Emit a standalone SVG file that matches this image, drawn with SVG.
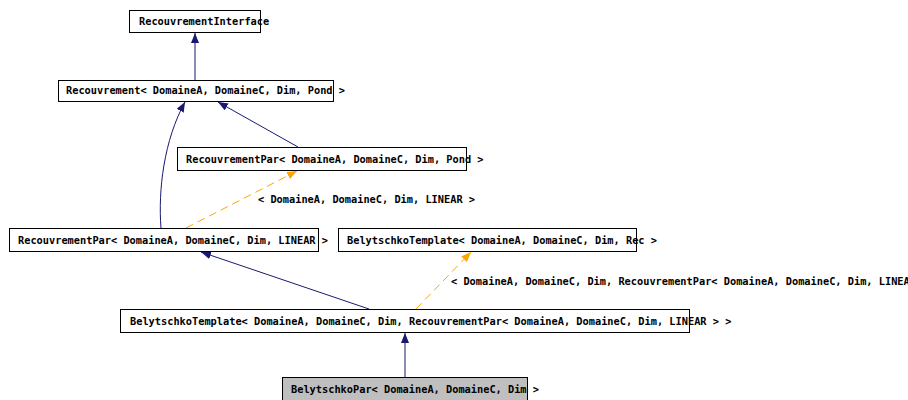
<svg xmlns="http://www.w3.org/2000/svg" width="908" height="400" viewBox="0 0 908 400">
<defs>
<style>
.box{fill:#ffffff;stroke:#000000;stroke-width:1}
.cur{fill:#bfbfbf;stroke:#000000;stroke-width:1}
text{font-family:"DejaVu Sans Mono","Liberation Mono",monospace;font-size:10.3px;font-weight:bold;fill:#000000}
.inh{fill:none;stroke:#191970;stroke-width:1}
.tpl{fill:none;stroke:#ffa500;stroke-width:1;stroke-dasharray:8,5}
</style>
<marker id="ah" viewBox="0 0 10 8" refX="10" refY="4" markerWidth="10" markerHeight="8" markerUnits="userSpaceOnUse" orient="auto">
<path d="M0,0 L10,4 L0,8 Z" fill="#191970"/>
</marker>
<marker id="ao" viewBox="0 0 10 8" refX="10" refY="4" markerWidth="10" markerHeight="8" markerUnits="userSpaceOnUse" orient="auto">
<path d="M0,0 L10,4 L0,8 Z" fill="#ffa500"/>
</marker>
</defs>
<rect width="908" height="400" fill="#ffffff"/>
<g id="connectors">
<path class="inh" d="M195,80 L195,33" marker-end="url(#ah)"/>
<path class="inh" d="M161,228 C158,190 164,140 185,102" marker-end="url(#ah)"/>
<path class="inh" d="M298,147 L218,102" marker-end="url(#ah)"/>
<path class="tpl" d="M186,228 L297,171" marker-end="url(#ao)"/>
<path class="inh" d="M369,309 L201,252" marker-end="url(#ah)"/>
<path class="tpl" d="M416,309 L471,252" marker-end="url(#ao)"/>
<path class="inh" d="M405,377 L405,333" marker-end="url(#ah)"/>
<text x="258" y="203">&lt; DomaineA, DomaineC, Dim, LINEAR &gt;</text>
<text x="451" y="285">&lt; DomaineA, DomaineC, Dim, RecouvrementPar&lt; DomaineA, DomaineC, Dim, LINEAR &gt; &gt;</text>
</g>
<g id="n_RecouvrementInterface">
<rect class="box" x="129.5" y="10.5" width="131" height="22"/>
<text x="139" y="25">RecouvrementInterface</text>
</g>
<g id="n_Recouvrement">
<rect class="box" x="58.5" y="80.5" width="275" height="21"/>
<text x="66" y="94">Recouvrement&lt; DomaineA, DomaineC, Dim, Pond &gt;</text>
</g>
<g id="n_RecouvrementPar_Pond">
<rect class="box" x="177.5" y="147.5" width="289" height="23"/>
<text x="186" y="163">RecouvrementPar&lt; DomaineA, DomaineC, Dim, Pond &gt;</text>
</g>
<g id="n_RecouvrementPar_LINEAR">
<rect class="box" x="9.5" y="228.5" width="309" height="23"/>
<text x="18" y="244">RecouvrementPar&lt; DomaineA, DomaineC, Dim, LINEAR &gt;</text>
</g>
<g id="n_BelytschkoTemplate_Rec">
<rect class="box" x="338.5" y="228.5" width="298" height="23"/>
<text x="347" y="244">BelytschkoTemplate&lt; DomaineA, DomaineC, Dim, Rec &gt;</text>
</g>
<g id="n_BelytschkoTemplate_Par">
<rect class="box" x="120.5" y="309.5" width="569" height="23"/>
<text x="130" y="325">BelytschkoTemplate&lt; DomaineA, DomaineC, Dim, RecouvrementPar&lt; DomaineA, DomaineC, Dim, LINEAR &gt; &gt;</text>
</g>
<g id="n_BelytschkoPar">
<rect class="cur" x="282.5" y="377.5" width="245" height="23"/>
<text x="291" y="393">BelytschkoPar&lt; DomaineA, DomaineC, Dim &gt;</text>
</g>
</svg>
